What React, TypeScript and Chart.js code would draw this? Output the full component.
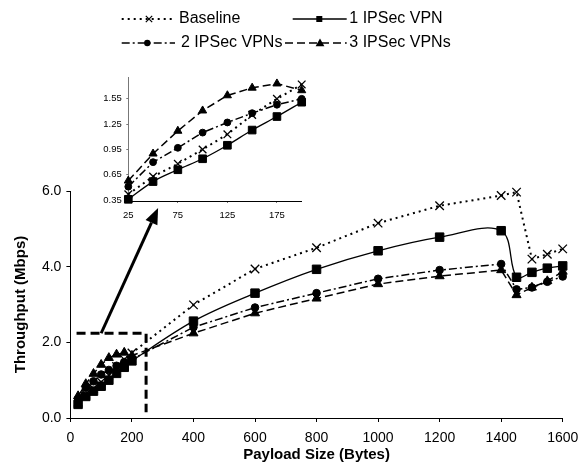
import React, { useEffect, useRef } from "react";
import { Chart, registerables } from "chart.js";

Chart.register(...registerables);

// ---- data ----
const X_VALUES = [25, 50, 75, 100, 125, 150, 175, 200, 400, 600, 800, 1000, 1200, 1400, 1450, 1500, 1550, 1600];
const BASELINE = [0.42, 0.63, 0.78, 0.95, 1.13, 1.36, 1.55, 1.72, 2.99, 3.94, 4.5, 5.15, 5.61, 5.88, 5.97, 4.2, 4.33, 4.47];
const VPN1 = [0.36, 0.57, 0.71, 0.84, 1.0, 1.18, 1.34, 1.51, 2.56, 3.3, 3.93, 4.42, 4.78, 4.95, 3.72, 3.85, 3.96, 4.02];
const VPN2 = [0.51, 0.8, 0.97, 1.15, 1.27, 1.38, 1.48, 1.55, 2.4, 2.92, 3.3, 3.68, 3.91, 4.07, 3.4, 3.45, 3.6, 3.74];
const VPN3 = [0.58, 0.9, 1.17, 1.41, 1.59, 1.68, 1.73, 1.65, 2.24, 2.77, 3.16, 3.54, 3.75, 3.91, 3.25, 3.45, 3.62, 3.87];
const SERIES_NAMES = ["Baseline", "1 IPSec VPN", "2 IPSec VPNs", "3 IPSec VPNs"];
const SERIES_VALUES = [BASELINE, VPN1, VPN2, VPN3];
const INSET_COUNT = 8; // inset shows payloads 25..200

const MAIN_X_TICKS = [0, 200, 400, 600, 800, 1000, 1200, 1400, 1600];
const MAIN_Y_TICKS = [0, 2, 4, 6];
const INSET_X_TICKS = [25, 75, 125, 175];
const INSET_Y_TICKS = [0.35, 0.65, 0.95, 1.25, 1.55];

const X_TITLE = "Payload Size (Bytes)";
const Y_TITLE = "Throughput (Mbps)";

// zoom box + arrow annotation (data coordinates)
const ZOOM_BOX_X = [20, 246];
const ZOOM_BOX_Y = [2.24, 0.15];
const ARROW_FROM = [100, 2.24];
const ARROW_TO = [285, 5.55];

// ---- styles ----
const STYLES = [
  { dash: [2, 4], width: 2, point: "crossRot", radius: 6, tension: 0 },
  { dash: [], width: 1.3, point: "rect", radius: 6, tension: 0.35 },
  { dash: [8, 3, 2, 3], width: 1.5, point: "circle", radius: 3.8, tension: 0 },
  { dash: [8, 4], width: 1.5, point: "triangle", radius: 5.2, tension: 0 },
];

const FONT = "'Liberation Sans', Arial, sans-serif";

function makeDatasets(count: number) {
  return SERIES_VALUES.map((vals, s) => {
    const st = STYLES[s];
    return {
      label: SERIES_NAMES[s],
      data: X_VALUES.slice(0, count).map((x, i) => ({ x, y: vals[i] })),
      borderColor: "#000",
      backgroundColor: "#000",
      borderWidth: st.width,
      borderDash: st.dash,
      pointStyle: st.point,
      pointRadius: st.radius,
      pointBorderWidth: st.point === "crossRot" ? 1.3 : 1,
      pointBackgroundColor: "#000",
      pointBorderColor: "#000",
      tension: st.tension,
      clip: false as any,
    };
  });
}

function drawMarker(ctx: CanvasRenderingContext2D, style: string, x: number, y: number, r: number) {
  ctx.save();
  ctx.setLineDash([]);
  ctx.fillStyle = "#000";
  ctx.strokeStyle = "#000";
  ctx.beginPath();
  if (style === "crossRot") {
    ctx.lineWidth = 1.2;
    ctx.moveTo(x - r, y - r);
    ctx.lineTo(x + r, y + r);
    ctx.moveTo(x + r, y - r);
    ctx.lineTo(x - r, y + r);
    ctx.stroke();
  } else if (style === "rect") {
    ctx.fillRect(x - r, y - r, 2 * r, 2 * r);
  } else if (style === "circle") {
    ctx.arc(x, y, r, 0, Math.PI * 2);
    ctx.fill();
  } else {
    ctx.moveTo(x, y - r * 1.1);
    ctx.lineTo(x + r * 1.1, y + r * 0.8);
    ctx.lineTo(x - r * 1.1, y + r * 0.8);
    ctx.closePath();
    ctx.fill();
  }
  ctx.restore();
}

const LEGEND_LAYOUT = [
  { x0: 121.7, x1: 175, mx: 149, tx: 179, y: 19, mr: 3.2 },
  { x0: 292.7, x1: 346.7, mx: 319.3, tx: 349.3, y: 19, mr: 3 },
  { x0: 121.7, x1: 175, mx: 147.3, tx: 181, y: 43, mr: 3.2 },
  { x0: 285, x1: 346.7, mx: 320, tx: 349.3, y: 43, mr: 4 },
];

const overlayPlugin = {
  id: "overlay",
  afterDatasetsDraw(chart: any) {
    const ctx: CanvasRenderingContext2D = chart.ctx;
    const xs = chart.scales.x;
    const ys = chart.scales.y;
    ctx.save();
    // dashed zoom box
    ctx.strokeStyle = "#000";
    ctx.lineWidth = 3;
    ctx.setLineDash([9, 5]);
    ctx.beginPath();
    ctx.moveTo(xs.getPixelForValue(ZOOM_BOX_X[0]), ys.getPixelForValue(ZOOM_BOX_Y[0]));
    ctx.lineTo(xs.getPixelForValue(ZOOM_BOX_X[1]), ys.getPixelForValue(ZOOM_BOX_Y[0]));
    ctx.lineTo(xs.getPixelForValue(ZOOM_BOX_X[1]), ys.getPixelForValue(ZOOM_BOX_Y[1]));
    ctx.stroke();
    // arrow
    const fx = xs.getPixelForValue(ARROW_FROM[0]);
    const fy = ys.getPixelForValue(ARROW_FROM[1]);
    const tx = xs.getPixelForValue(ARROW_TO[0]);
    const ty = ys.getPixelForValue(ARROW_TO[1]);
    const ang = Math.atan2(ty - fy, tx - fx);
    const headLen = 16;
    const headHalf = 6.5;
    const bx = tx - headLen * Math.cos(ang);
    const by = ty - headLen * Math.sin(ang);
    ctx.setLineDash([]);
    ctx.lineWidth = 3;
    ctx.beginPath();
    ctx.moveTo(fx, fy);
    ctx.lineTo(bx, by);
    ctx.stroke();
    ctx.fillStyle = "#000";
    ctx.beginPath();
    ctx.moveTo(tx, ty);
    ctx.lineTo(bx + headHalf * Math.sin(ang), by - headHalf * Math.cos(ang));
    ctx.lineTo(bx - headHalf * Math.sin(ang), by + headHalf * Math.cos(ang));
    ctx.closePath();
    ctx.fill();
    ctx.restore();
  },
  afterDraw(chart: any) {
    const ctx: CanvasRenderingContext2D = chart.ctx;
    ctx.save();
    LEGEND_LAYOUT.forEach((lg, i) => {
      const st = STYLES[i];
      ctx.strokeStyle = "#000";
      ctx.lineWidth = st.width;
      ctx.setLineDash(st.dash);
      ctx.beginPath();
      ctx.moveTo(lg.x0, lg.y);
      ctx.lineTo(lg.x1, lg.y);
      ctx.stroke();
      drawMarker(ctx, st.point, lg.mx, lg.y, lg.mr);
      ctx.fillStyle = "#000";
      ctx.font = `16px ${FONT}`;
      ctx.textBaseline = "middle";
      ctx.textAlign = "left";
      ctx.fillText(SERIES_NAMES[i], lg.tx, lg.y);
    });
    ctx.restore();
  },
};

function tickSetter(values: number[]) {
  return (scale: any) => {
    scale.ticks = values.map((v) => ({ value: v }));
  };
}

export default function App() {
  const mainRef = useRef<HTMLCanvasElement>(null);
  const insetRef = useRef<HTMLCanvasElement>(null);

  useEffect(() => {
    const main = new Chart(mainRef.current as HTMLCanvasElement, {
      type: "line",
      data: { datasets: makeDatasets(X_VALUES.length) as any },
      options: {
        animation: false,
        responsive: false,
        devicePixelRatio: 1,
        layout: { padding: { top: 191, right: 24.3, bottom: 0, left: 0 } },
        plugins: { legend: { display: false }, tooltip: { enabled: false } },
        scales: {
          x: {
            type: "linear",
            min: 0,
            max: 1600,
            afterBuildTicks: tickSetter(MAIN_X_TICKS),
            afterFit: (s: any) => {
              s.height = 44;
            },
            grid: { drawOnChartArea: false, tickLength: 4, color: "#000" },
            border: { color: "#000", width: 1 },
            ticks: {
              color: "#000",
              padding: 7.5,
              font: { family: FONT, size: 14 },
              maxRotation: 0,
              callback: (v: any) => String(v),
            },
            title: {
              display: true,
              text: X_TITLE,
              color: "#000",
              font: { family: FONT, size: 15, weight: "bold", lineHeight: 1 },
              padding: { top: 0, bottom: 0 },
            },
          },
          y: {
            type: "linear",
            min: 0,
            max: 6,
            afterBuildTicks: tickSetter(MAIN_Y_TICKS),
            afterFit: (s: any) => {
              s.width = 70.4;
            },
            grid: { drawOnChartArea: false, tickLength: 4, color: "#000" },
            border: { color: "#000", width: 1 },
            ticks: {
              color: "#000",
              padding: 5,
              font: { family: FONT, size: 14 },
              callback: (v: any) => Number(v).toFixed(1),
            },
            title: {
              display: true,
              text: Y_TITLE,
              color: "#000",
              font: { family: FONT, size: 15, weight: "bold", lineHeight: 1.2 },
              padding: { top: 12, bottom: 0 },
            },
          },
        },
      },
      plugins: [overlayPlugin],
    });

    const inset = new Chart(insetRef.current as HTMLCanvasElement, {
      type: "line",
      data: { datasets: makeDatasets(INSET_COUNT).map((d) => ({ ...d, pointRadius: d.pointRadius * 0.9 })) as any },
      options: {
        animation: false,
        responsive: false,
        devicePixelRatio: 1,
        layout: { padding: { top: 77.7, right: 285.3, bottom: 0, left: 0 } },
        plugins: { legend: { display: false }, tooltip: { enabled: false } },
        scales: {
          x: {
            type: "linear",
            min: 25,
            max: 200,
            afterBuildTicks: tickSetter(INSET_X_TICKS),
            afterFit: (s: any) => {
              s.height = 261;
            },
            grid: { drawOnChartArea: false, tickLength: 2, color: "#777" },
            border: { color: "#000", width: 1 },
            ticks: {
              color: "#000",
              padding: 6.3,
              font: { family: FONT, size: 9.5 },
              maxRotation: 0,
              callback: (v: any) => String(v),
            },
          },
          y: {
            type: "linear",
            min: 0.34,
            max: 1.8,
            afterBuildTicks: tickSetter(INSET_Y_TICKS),
            afterFit: (s: any) => {
              s.width = 128.3;
            },
            grid: { drawOnChartArea: false, tickLength: 2, color: "#777" },
            border: { color: "#777", width: 1 },
            ticks: {
              color: "#000",
              padding: 4.5,
              font: { family: FONT, size: 9.5 },
              callback: (v: any) => Number(v).toFixed(2),
            },
          },
        },
      },
    });

    return () => {
      main.destroy();
      inset.destroy();
    };
  }, []);

  return (
    <div style={{ position: "fixed", left: 0, top: 0, width: 587, height: 462, background: "#fff" }}>
      <canvas ref={mainRef} width={587} height={462} style={{ position: "absolute", left: 0, top: 0 }} />
      <canvas
        ref={insetRef}
        width={587}
        height={462}
        style={{ position: "absolute", left: 0, top: 0, pointerEvents: "none" }}
      />
    </div>
  );
}
